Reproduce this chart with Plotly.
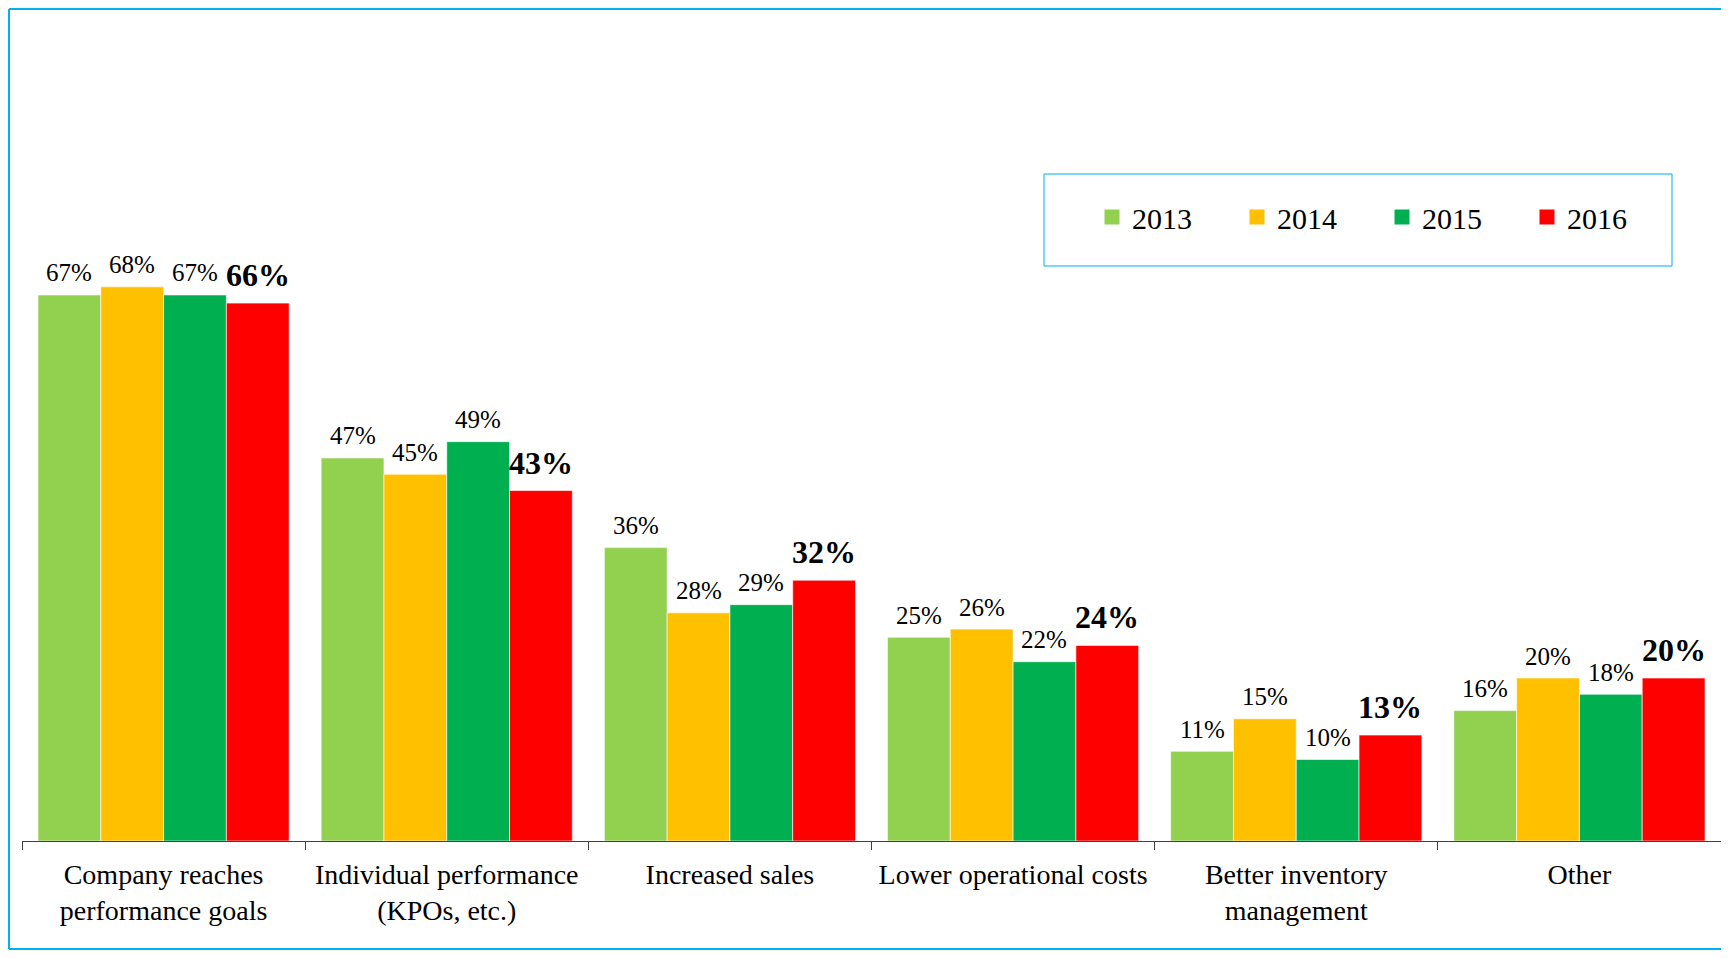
import plotly.graph_objects as go

categories = ["Company reaches<br>performance goals", "Individual performance<br>(KPOs, etc.)",
              "Increased sales", "Lower operational costs",
              "Better inventory<br>management", "Other"]
years = ["2013", "2014", "2015", "2016"]
v2013 = [67, 47, 36, 25, 11, 16]
v2014 = [68, 45, 28, 26, 15, 20]
v2015 = [67, 49, 29, 22, 10, 18]
v2016 = [66, 43, 32, 24, 13, 20]
series = [v2013, v2014, v2015, v2016]
colors = ["#92D050", "#FFC000", "#00B050", "#FF0000"]

FONT = "Liberation Serif"
OFF = 8  # page body margin
W, H = 1729 - 2 * OFF, 958 - 2 * OFF
ML, MR, MT, MB = 14, 0, 18, 109
pw, ph = W - ML - MR, H - MT - MB
BARGAP = 0.113


def px2paper_x(x):
    return (x - OFF - ML) / pw


def px2paper_y(y):
    return (H - MB - (y - OFF)) / ph


fig = go.Figure()
cat_w = pw / len(categories)
bar_w = cat_w * (1 - BARGAP) / len(years)
annotations = []
for i, (yr, vals, col) in enumerate(zip(years, series, colors)):
    fig.add_trace(go.Bar(
        name=yr, x=categories, y=vals, showlegend=False,
        marker=dict(color=col, line=dict(color="rgba(255,255,255,0.6)", width=1)),
        hoverinfo="skip"))
    # legend-only marker
    fig.add_trace(go.Scatter(
        name=yr, x=[None], y=[None], mode="markers",
        marker=dict(symbol="square", size=15, color=col), showlegend=True, hoverinfo="skip"))
    bold = yr == "2016"
    for c, v in zip(categories, vals):
        annotations.append(dict(
            x=c, y=v, xref="x", yref="y", showarrow=False,
            text=f"<b>{v}%</b>" if bold else f"{v}%",
            font=dict(family=FONT, size=32 if bold else 25, color="black"),
            xanchor="center", yanchor="middle",
            xshift=(i - 1.5) * bar_w, yshift=28 if bold else 22))

BLUE = "#00B0F0"
bx0, bx1 = px2paper_x(OFF + 1), px2paper_x(OFF + W + 20)
by0, by1 = px2paper_y(OFF + H - 1), px2paper_y(OFF + 1)
border = [
    dict(type="line", xref="paper", yref="paper", x0=bx0, x1=bx1, y0=by1, y1=by1,
         line=dict(color=BLUE, width=2), layer="above"),
    dict(type="line", xref="paper", yref="paper", x0=bx0, x1=bx1, y0=by0, y1=by0,
         line=dict(color=BLUE, width=2), layer="above"),
    dict(type="line", xref="paper", yref="paper", x0=bx0, x1=bx0, y0=by0, y1=by1,
         line=dict(color=BLUE, width=2), layer="above"),
]

fig.update_layout(
    width=W, height=H,
    margin=dict(l=ML, r=MR, t=MT, b=MB),
    paper_bgcolor="white", plot_bgcolor="white",
    barmode="group", bargap=BARGAP, bargroupgap=0,
    font=dict(family=FONT, color="black"),
    showlegend=True,
    legend=dict(orientation="h", x=px2paper_x(1092), y=px2paper_y(217), xanchor="left", yanchor="middle",
                font=dict(family=FONT, size=30, color="black"), entrywidth=100, entrywidthmode="pixels",
                bgcolor="rgba(0,0,0,0)", borderwidth=0, traceorder="normal", itemsizing="trace"),
    xaxis=dict(showline=True, linecolor="#404040", linewidth=1, ticks="outside", tickson="boundaries",
               ticklen=8, tickcolor="#404040", tickfont=dict(family=FONT, size=28, color="black"),
               ticklabelstandoff=8, showgrid=False, zeroline=False, fixedrange=True),
    yaxis=dict(visible=False, range=[0, 100], fixedrange=True),
    annotations=annotations,
    shapes=border + [
        dict(type="rect", xref="paper", yref="paper",
             x0=px2paper_x(1044), x1=px2paper_x(1672), y0=px2paper_y(266), y1=px2paper_y(174),
             line=dict(color=BLUE, width=1), fillcolor="rgba(0,0,0,0)", layer="above"),
    ],
)

fig.write_html("out.html")
